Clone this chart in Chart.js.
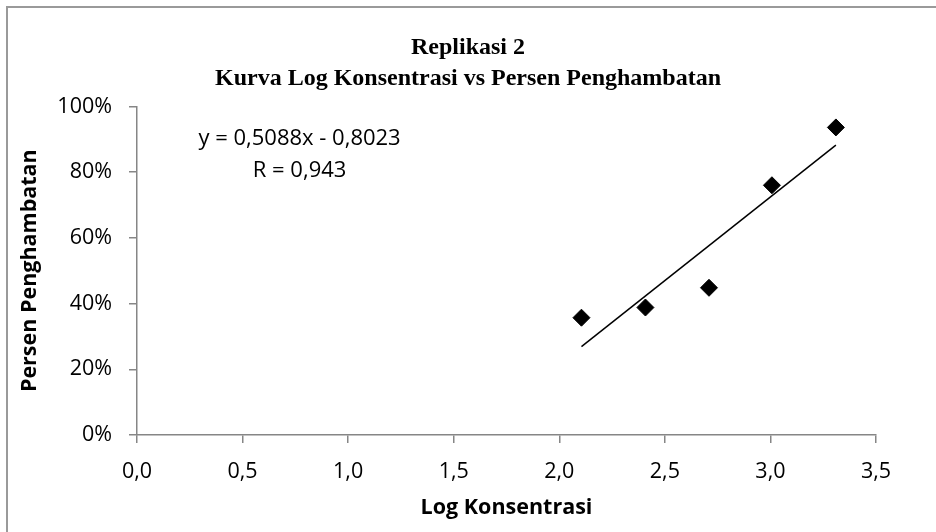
<!DOCTYPE html>
<html>
<head>
<meta charset="utf-8">
<script src="https://cdn.jsdelivr.net/npm/chart.js@4/dist/chart.umd.min.js"></script>
<style>
    html, body { margin: 0; padding: 0; background: #ffffff; }
    #wrap { position: relative; width: 936px; height: 532px; overflow: hidden; }
    #frame { position: absolute; left: 6px; top: 6px; width: 960px; height: 560px;
             border-top: 2px solid #9a9a9a; border-left: 2px solid #9a9a9a; }
    canvas { position: absolute; left: 0; top: 0; }
</style>
</head>
<body>
<div id="wrap">
    <div id="frame"></div>
    <canvas id="scatter-chart" width="936" height="532"></canvas>
</div>
<script>
// values
const log_konsentrasi = [2.105, 2.408, 2.709, 3.007, 3.310];
const persen_hambat = [0.357, 0.388, 0.448, 0.760, 0.936];

// linear trendline ends as drawn
const trend_x = [2.105, 3.310];
const trend_y = [0.269, 0.882];

const x_ticks = [0, 0.5, 1.0, 1.5, 2.0, 2.5, 3.0, 3.5];
const y_ticks = [0, 0.2, 0.4, 0.6, 0.8, 1.0];

const equation_lines = ['y = 0,5088x - 0,8023', 'R = 0,943'];
const equation_at = [0.77, 0.903];

const axis_gray = '#868686';
const tick_font = { family: 'Open Sans', size: 21.5 };

function build_points(xs, ys) {
    return xs.map(function(x, i) {
        return { x: x, y: ys[i] };
    });
}

// equation label next to the trendline, as excel puts it
const equationLabel = {
    id: 'equationLabel',
    afterDatasetsDraw(chart) {
        const ctx = chart.ctx;
        const xs = chart.scales.x;
        const ys = chart.scales.y;
        const cx = xs.getPixelForValue(equation_at[0]);
        let cy = ys.getPixelForValue(equation_at[1]);
        ctx.save();
        ctx.fillStyle = '#000000';
        ctx.font = '22px "Open Sans"';
        ctx.textAlign = 'center';
        ctx.textBaseline = 'middle';
        equation_lines.forEach(function(line) {
            ctx.fillText(line, cx, cy);
            cy += 32;
        });
        ctx.restore();
    }
};

var chrt = document.getElementById('scatter-chart').getContext('2d');
var chartId = new Chart(chrt, {
    type: 'scatter',
    data: {
        datasets: [{
            label: 'Persen Penghambatan',
            data: build_points(log_konsentrasi, persen_hambat),
            pointStyle: 'rectRot',
            pointRadius: 8.5,
            backgroundColor: '#000000',
            borderColor: '#000000',
            borderWidth: 1
        }, {
            type: 'line',
            label: 'Linear',
            data: build_points(trend_x, trend_y),
            borderColor: '#000000',
            borderWidth: 1.5,
            pointRadius: 0,
            fill: false
        }]
    },
    options: {
        responsive: false,
        animation: false,
        layout: {
            padding: { left: 0, right: 0, top: 0, bottom: 0 }
        },
        plugins: {
            legend: { display: false },
            tooltip: { enabled: false },
            title: {
                display: true,
                text: ['Replikasi 2', 'Kurva Log Konsentrasi vs Persen Penghambatan'],
                color: '#000000',
                font: { family: 'Liberation Serif', size: 24, weight: 'bold', lineHeight: 1.3 },
                padding: { top: 32, bottom: 12 }
            }
        },
        scales: {
            x: {
                type: 'linear',
                min: 0,
                max: 3.5,
                afterBuildTicks: function(scale) {
                    scale.ticks = x_ticks.map(function(v) { return { value: v }; });
                },
                afterFit: function(scale) {
                    scale.height = 97;
                },
                border: { color: axis_gray, width: 1.5 },
                grid: { display: true, drawOnChartArea: false, drawTicks: true, tickLength: 8, color: axis_gray, lineWidth: 1.5 },
                ticks: {
                    color: '#000000',
                    font: tick_font,
                    padding: 16,
                    callback: function(v) { return v.toFixed(1).replace('.', ','); }
                },
                title: {
                    display: true,
                    text: 'Log Konsentrasi',
                    color: '#000000',
                    font: { family: 'Open Sans', size: 21.5, weight: 'bold' },
                    padding: { top: 0, bottom: 11 }
                }
            },
            y: {
                type: 'linear',
                min: 0,
                max: 1,
                afterBuildTicks: function(scale) {
                    scale.ticks = y_ticks.map(function(v) { return { value: v }; });
                },
                afterFit: function(scale) {
                    scale.width = 137;
                },
                border: { color: axis_gray, width: 1.5 },
                grid: { display: true, drawOnChartArea: false, drawTicks: true, tickLength: 8, color: axis_gray, lineWidth: 1.5 },
                ticks: {
                    color: '#000000',
                    font: tick_font,
                    padding: 17,
                    callback: function(v) { return Math.round(v * 100) + '%'; }
                },
                title: {
                    display: true,
                    text: 'Persen Penghambatan',
                    color: '#000000',
                    font: { family: 'Open Sans', size: 21.5, weight: 'bold' },
                    padding: { top: 17, bottom: 0 }
                }
            },
            // empty right side, keeps the title centred on the whole frame
            yRight: {
                type: 'linear',
                position: 'right',
                display: true,
                afterFit: function(scale) {
                    scale.width = 60;
                },
                border: { display: false },
                grid: { display: false },
                ticks: { display: false },
                title: { display: false }
            }
        }
    },
    plugins: [equationLabel]
});
</script>
</body>
</html>
